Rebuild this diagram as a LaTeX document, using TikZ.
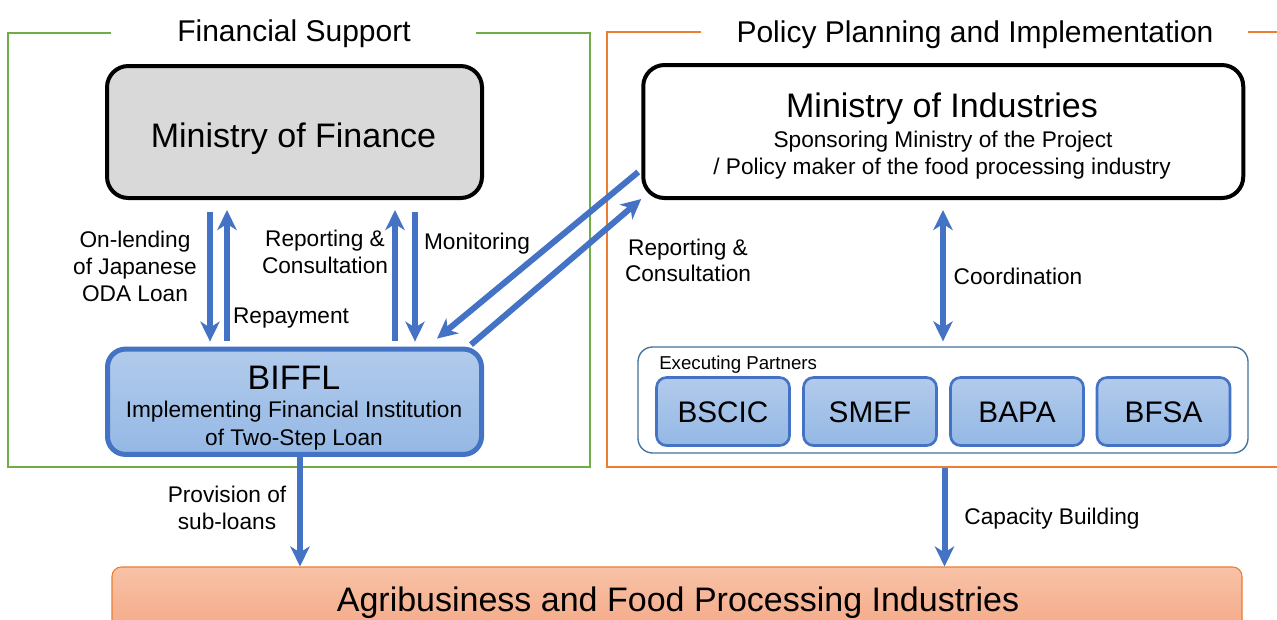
\documentclass[tikz,border=0pt]{standalone}
\usepackage{fontspec}
\setmainfont{Liberation Sans}
\usetikzlibrary{arrows.meta,calc}
\definecolor{bluA}{HTML}{4472C4}
\definecolor{greenF}{HTML}{70AD47}
\definecolor{orangeF}{HTML}{ED7D31}
\definecolor{greyF}{HTML}{D9D9D9}
\definecolor{contB}{HTML}{41719C}
\definecolor{lbTop}{RGB}{178,203,236}
\definecolor{lbBot}{RGB}{148,184,228}
\definecolor{orTop}{RGB}{248,194,166}
\definecolor{orBot}{RGB}{244,166,132}
\newcommand{\fBig}{\fontsize{25.5pt}{30pt}\selectfont}
\newcommand{\fSec}{\fontsize{22.5pt}{27pt}\selectfont}
\newcommand{\fLab}{\fontsize{17pt}{20pt}\selectfont}
\newcommand{\fSmall}{\fontsize{14pt}{17pt}\selectfont}
\newcommand{\fPart}{\fontsize{22.3pt}{26pt}\selectfont}
\begin{document}
\begin{tikzpicture}[x=0.75pt,y=-0.75pt,
  txt/.style={anchor=base, inner sep=0pt},
  lab/.style={txt, font=\fLab},
  arr/.style={draw=bluA, line width=4.5pt, -{Stealth[length=15pt,width=14.5pt,inset=4.5pt]}},
  darr/.style={draw=bluA, line width=4.5pt, {Stealth[length=15pt,width=14.5pt,inset=4.5pt]}-{Stealth[length=15pt,width=14.5pt,inset=4.5pt]}},
  frameline/.style={line width=1.1pt},
  ministry/.style={draw=black, line width=3pt, rounded corners=16pt, inner sep=0pt},
  bluebox/.style={draw=bluA, top color=lbTop, bottom color=lbBot, inner sep=0pt},
  partner/.style={bluebox, line width=2pt, rounded corners=7.5pt, minimum width=99.75pt, minimum height=51pt, font=\fPart}
]
\clip (0,0) rectangle (1277,619);
\fill[white] (0,0) rectangle (1277,619);

% frames
\draw[frameline, greenF] (111,33) -- (8,33) -- (8,467) -- (590,467) -- (590,33) -- (476,33);
\draw[frameline, orangeF] (701,32) -- (607,32) -- (607,467) -- (1290,467) -- (1290,32) -- (1248,32);
\node[txt, font=\fSec] (tFin) at (294,41) {Financial Support};
\node[txt, font=\fSec] (tPol) at (975,42) {Policy Planning and Implementation};

% boxes
\node[ministry, fill=greyF, minimum width=281.25pt, minimum height=99pt] (mof) at (294.5,132) {};
\node[txt, font=\fBig] (tMof) at (293.5,147) {Ministry of Finance};

\node[ministry, fill=white, minimum width=450pt, minimum height=99.75pt] (moi) at (943.25,131.5) {};
\node[txt, font=\fBig] (tMoi) at (942,117) {Ministry of Industries};
\node[lab] (tMoi2) at (943,147) {Sponsoring Ministry of the Project};
\node[lab] (tMoi3) at (942,174) {/ Policy maker of the food processing industry};

\node[bluebox, line width=3.75pt, rounded corners=13.5pt, minimum width=280.5pt, minimum height=79pt] (biffl) at (294.5,401.75) {};
\node[txt, font=\fBig] (tBif) at (294,389) {BIFFL};
\node[lab] (tBif2) at (294,417) {Implementing Financial Institution};
\node[lab] (tBif3) at (294,445) {of Two-Step Loan};

\node[draw=contB, line width=1pt, fill=white, rounded corners=11pt, minimum width=457.5pt, minimum height=79.5pt, inner sep=0pt] (partners) at (943,400) {};
\node[txt, anchor=base west, font=\fSmall] (tExe) at (659,369) {Executing Partners};
\node[partner] (bscic) at (723,411.5) {};
\node[partner] (smef) at (870,411.5) {};
\node[partner] (bapa) at (1017,411.5) {};
\node[partner] (bfsa) at (1163.5,411.5) {};
\node[txt, font=\fPart] (tBscic) at (723,422) {BSCIC};
\node[txt, font=\fPart] (tSmef) at (870,422) {SMEF};
\node[txt, font=\fPart] (tBapa) at (1017,422) {BAPA};
\node[txt, font=\fPart] (tBfsa) at (1163.5,422) {BFSA};

\node[draw=orangeF, line width=0.8pt, top color=orTop, bottom color=orBot, rounded corners=7pt, minimum width=847.5pt, minimum height=54.75pt, inner sep=0pt] (agri) at (677,603.5) {};
\node[txt, font=\fBig] (tAgri) at (678,611) {Agribusiness and Food Processing Industries};

% arrow x positions
\coordinate (xa) at (210,0);
\coordinate (xb) at (227,0);
\coordinate (xc) at (395,0);
\coordinate (xd) at (415,0);
\coordinate (xe) at (943,0);
\coordinate (xf) at (300,0);
\coordinate (xg) at (944.5,0);

\draw[arr] ($(mof.south -| xa)+(0,12)$) -- ($(biffl.north -| xa)+(0,-5)$);
\draw[arr] ($(biffl.north -| xb)+(0,-6)$) -- ($(mof.south -| xb)+(0,10)$);
\draw[arr] ($(biffl.north -| xc)+(0,-6)$) -- ($(mof.south -| xc)+(0,10)$);
\draw[arr] ($(mof.south -| xd)+(0,12)$) -- ($(biffl.north -| xd)+(0,-5)$);
\draw[arr] ($(moi.west)+(-3,40.5)$) -- ($(biffl.north east)+(-47,-8)$);
\draw[arr] ($(biffl.north east)+(-13,-2)$) -- ($(moi.south west)+(0,-1)$);
\draw[darr] ($(moi.south -| xe)+(0,10)$) -- ($(partners.north -| xe)+(0,-5)$);
\draw[arr] (biffl.south -| xf) -- (agri.north -| xf);
\draw[arr] ($(partners.south -| xg)+(0,14)$) -- (agri.north -| xg);

% labels
\node[lab] (lOn1) at (135,247) {On-lending};
\node[lab] (lOn2) at (135,274) {of Japanese};
\node[lab] (lOn3) at (135,301) {ODA Loan};
\node[lab] (lRep) at (291,323) {Repayment};
\node[lab] (lRc1) at (325,246) {Reporting \&};
\node[lab] (lRc2) at (325,273) {Consultation};
\node[lab] (lMon) at (477,249) {Monitoring};
\node[lab] (lRr1) at (688,255) {Reporting \&};
\node[lab] (lRr2) at (688,281) {Consultation};
\node[lab] (lCoo) at (1018,284) {Coordination};
\node[lab] (lPr1) at (227,502) {Provision of};
\node[lab] (lPr2) at (227,529) {sub-loans};
\node[lab] (lCap) at (1052,524) {Capacity Building};
\end{tikzpicture}
\end{document}
